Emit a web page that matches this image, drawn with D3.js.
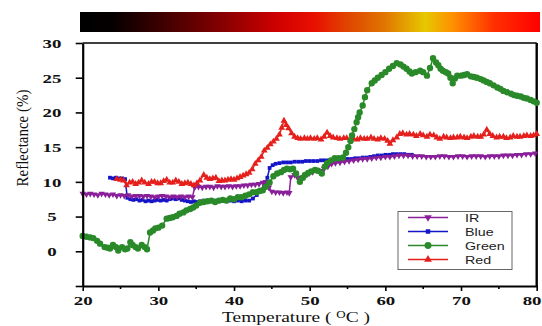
<!DOCTYPE html>
<html><head><meta charset="utf-8">
<script src="https://cdn.jsdelivr.net/npm/d3@7"></script>
<style>html,body{margin:0;padding:0;background:#fff;}svg{display:block;}</style>
</head><body>
<svg id="c" width="542" height="326"></svg>
<script>
const xTicks = [20,30,40,50,60,70,80];
const xMinor = [25,35,45,55,65,75];
const yTicks = [-5,0,5,10,15,20,25,30];
const seriesNames = ["IR","Blue","Green","Red"];
const seriesColors = ["#8a1f9a","#1414c8","#2a8a2a","#e5201c"];
const gradStops = [[0,"#000000"],[0.07,"#050000"],[0.2,"#4a0000"],[0.32,"#8c0000"],[0.43,"#d00000"],[0.51,"#e81000"],[0.58,"#e04400"],[0.66,"#e07400"],[0.75,"#e6c800"],[0.81,"#ff9000"],[0.9,"#ff3000"],[1,"#ff0000"]];

const irData = [[20,8.3],[20.5,8.2],[21,8.3],[21.5,8.2],[22,8.1],[22.5,8.3],[23,8.2],[23.5,8.1],[24,8.2],[24.5,8.0],[25,8.1],[25.5,8.0],[26,8.1],[26.5,7.9],[27,8.0],[27.5,8.0],[28,7.9],[28.5,8.0],[29,7.9],[29.5,7.8],[30,7.9],[30.5,8.0],[31,7.9],[31.5,7.8],[32,7.9],[32.5,7.8],[33,7.9],[33.5,7.8],[34,7.9],[34.5,7.8],[34.8,9.2],[35.3,9.3],[35.8,9.2],[36.3,9.3],[36.8,9.3],[37.3,9.2],[37.8,9.4],[38.3,9.3],[38.8,9.3],[39.3,9.4],[39.8,9.3],[40.3,9.4],[40.8,9.4],[41.3,9.5],[41.8,9.5],[42.3,9.6],[42.8,9.6],[43.3,9.7],[43.8,9.9],[44.2,10.0],[44.6,9.2],[45,8.6],[45.5,8.5],[46,8.5],[46.5,8.4],[47,8.5],[47.3,8.4],[47.5,10.7],[48,11.0],[48.4,10.6],[48.9,10.6],[49.4,11.0],[49.9,11.2],[50.4,11.4],[50.9,11.7],[51.4,11.6],[51.9,11.9],[52.4,12.2],[52.9,12.6],[53.4,12.7],[54,12.8],[54.6,12.9],[55.2,13.0],[55.8,13.1],[56.4,13.2],[57,13.3],[57.6,13.3],[58.2,13.4],[58.8,13.5],[59.4,13.5],[60,13.6],[60.6,13.6],[61.2,13.7],[61.8,13.8],[62.4,13.8],[63,13.8],[63.6,13.7],[64.2,13.7],[64.8,13.7],[65.4,13.6],[66,13.6],[66.6,13.6],[67.2,13.7],[67.8,13.7],[68.4,13.6],[69,13.6],[69.6,13.7],[70.2,13.7],[70.8,13.6],[71.4,13.7],[72,13.7],[72.6,13.7],[73.2,13.6],[73.8,13.7],[74.4,13.7],[75,13.7],[75.6,13.8],[76.2,13.8],[76.8,13.8],[77.4,13.9],[78,13.9],[78.6,14.0],[79.2,14.0],[79.8,14.1]];

const blueData = [[23.6,10.6],[24,10.5],[24.4,10.6],[24.8,10.5],[25.2,10.5],[25.6,10.4],[25.9,7.7],[26.3,7.5],[26.7,7.4],[27.1,7.5],[27.5,7.3],[27.9,7.4],[28.3,7.2],[28.7,7.3],[29.1,7.2],[29.5,7.3],[29.9,7.4],[30.3,7.3],[30.7,7.4],[31.1,7.3],[31.5,7.5],[31.9,7.6],[32.3,7.5],[32.7,7.6],[33.1,7.4],[33.5,7.3],[33.9,7.2],[34.3,7.1],[34.7,7.2],[35.1,7.1],[35.5,7.2],[36,7.3],[36.5,7.2],[37,7.2],[37.5,7.3],[38,7.2],[38.5,7.3],[39,7.2],[39.5,7.3],[40,7.2],[40.5,7.3],[41,7.2],[41.5,7.3],[42,7.3],[42.5,7.6],[43,8.1],[43.5,8.8],[44,9.5],[44.4,10.6],[44.7,12.0],[45.1,12.4],[45.5,12.6],[46,12.7],[46.5,12.8],[47,12.8],[47.5,12.8],[48,12.9],[48.5,12.9],[49,12.9],[49.5,13.0],[50,13.0],[50.5,13.0],[51,13.0],[51.5,13.1],[52,13.1],[52.5,13.1],[53,13.1],[53.5,13.2],[54,13.2],[54.5,13.2],[55,13.3],[55.5,13.3],[56,13.4],[56.5,13.4],[57,13.5],[57.5,13.5],[58,13.6],[58.5,13.7],[59,13.8],[59.5,13.8],[60,13.9],[60.5,13.9],[61,14.0],[61.5,14.0],[62,14.0],[62.5,14.0],[63,13.9],[63.5,13.9]];

const greenData = [[20,2.2],[20.5,2.1],[21,2.0],[21.4,1.9],[21.9,1.5],[22.3,1.1],[22.9,0.6],[23.3,0.5],[23.6,0.4],[24.0,0.9],[24.4,0.6],[24.7,0.1],[25.2,0.6],[25.6,0.3],[25.9,0.4],[26.3,1.3],[26.6,0.9],[27.0,0.6],[27.3,0.4],[27.8,0.9],[28.2,0.6],[28.5,0.3],[28.9,2.7],[29.3,3.0],[29.6,3.3],[30.0,3.4],[30.5,3.7],[31.1,4.7],[31.5,4.8],[31.9,4.9],[32.4,5.1],[32.8,5.4],[33.3,5.6],[33.7,5.9],[34.2,6.1],[34.6,6.3],[35.0,6.6],[35.5,7.0],[36.0,7.1],[36.5,7.2],[37.0,7.3],[37.5,7.1],[38.0,7.3],[38.5,7.4],[39.0,7.3],[39.5,7.6],[40.0,7.5],[40.5,7.8],[41.0,7.8],[41.5,8.0],[42.0,8.2],[42.5,8.5],[43.0,8.5],[43.4,8.7],[43.8,8.8],[44.2,9.3],[44.7,9.9],[45.2,10.8],[45.7,11.2],[46.2,11.4],[46.6,11.7],[47.0,11.9],[47.4,11.8],[47.8,11.9],[48.2,11.2],[48.7,10.0],[49.1,10.6],[49.4,11.0],[49.8,11.3],[50.2,11.5],[50.7,11.7],[51.1,11.6],[51.6,11.2],[52.0,12.2],[52.3,12.7],[52.8,13.1],[53.3,13.4],[53.8,13.4],[54.4,13.5],[54.8,14.2],[55.1,15.0],[55.4,15.9],[55.6,16.7],[55.9,17.6],[56.2,18.6],[56.4,19.3],[56.6,20.0],[57.0,21.0],[57.3,22.2],[57.6,23.2],[58.2,24.2],[58.6,24.6],[59.0,25.0],[59.5,25.4],[60.0,25.8],[60.5,26.3],[61.0,26.7],[61.5,27.1],[62.0,26.9],[62.4,26.6],[62.8,26.3],[63.2,25.9],[63.5,25.6],[64.0,25.8],[64.6,26.0],[65.0,25.8],[65.5,25.3],[65.9,26.4],[66.3,27.8],[66.7,27.2],[67.0,26.8],[67.3,26.3],[67.6,26.0],[68.0,25.8],[68.3,25.6],[68.6,25.0],[68.9,24.2],[69.2,24.9],[69.5,25.3],[70.0,25.3],[70.4,25.4],[70.8,25.5],[71.3,25.2],[71.7,25.1],[72.1,25.0],[72.6,24.8],[73.0,24.6],[73.4,24.4],[73.8,24.2],[74.3,23.9],[74.8,23.6],[75.2,23.4],[75.6,23.1],[76.1,22.9],[76.6,22.7],[77.0,22.5],[77.4,22.4],[77.9,22.3],[78.3,22.1],[78.7,22.0],[79.2,21.8],[79.6,21.6],[80.0,21.4]];

const redData = [[24.5,10.4],[25.0,10.3],[25.4,10.2],[25.8,9.5],[26.2,9.9],[26.6,10.0],[27.0,9.7],[27.4,9.9],[27.8,10.2],[28.2,9.9],[28.7,9.7],[29.1,10.0],[29.5,10.0],[29.9,9.8],[30.3,9.8],[30.7,10.1],[31.1,10.3],[31.5,9.9],[31.9,9.9],[32.3,10.2],[32.7,10.0],[33.1,9.7],[33.5,9.8],[33.9,9.9],[34.3,9.7],[34.7,9.5],[35.1,9.8],[35.5,10.2],[36.0,11.0],[36.4,10.6],[36.8,10.4],[37.2,10.5],[37.6,10.6],[38.0,10.1],[38.4,10.2],[38.8,10.2],[39.2,10.3],[39.6,10.4],[40.0,10.3],[40.4,10.5],[40.8,10.7],[41.2,10.9],[41.6,11.1],[42.0,11.3],[42.4,11.8],[42.8,12.6],[43.2,13.1],[43.6,13.6],[44.0,14.5],[44.4,14.9],[44.8,15.4],[45.2,15.8],[45.6,16.2],[46.0,16.8],[46.3,17.8],[46.6,18.8],[46.9,18.2],[47.2,17.7],[47.6,17.0],[48.0,16.5],[48.4,16.3],[48.8,16.2],[49.3,16.3],[49.7,16.2],[50.1,16.3],[50.6,16.2],[51.0,16.3],[51.5,16.1],[51.9,16.5],[52.3,17.1],[52.7,16.6],[53.1,16.4],[53.6,16.3],[54.0,16.2],[54.5,16.3],[54.9,16.3],[55.4,16.1],[55.8,16.2],[56.3,16.1],[56.7,16.3],[57.2,16.2],[57.6,16.2],[58.1,16.4],[58.5,16.2],[59.0,16.1],[59.4,16.3],[59.9,16.2],[60.3,15.9],[60.6,15.5],[61.0,16.0],[61.5,16.4],[61.9,16.9],[62.3,17.0],[62.8,16.8],[63.2,16.9],[63.7,16.8],[64.1,16.6],[64.6,16.9],[65.0,16.7],[65.5,16.5],[65.9,16.8],[66.4,16.7],[66.8,16.4],[67.2,16.2],[67.7,16.5],[68.1,16.4],[68.6,16.3],[69.0,16.4],[69.5,16.4],[69.9,16.5],[70.4,16.4],[70.8,16.3],[71.3,16.5],[71.7,16.6],[72.2,16.5],[72.6,16.5],[73.0,16.8],[73.4,17.5],[73.8,16.9],[74.2,16.6],[74.7,16.4],[75.1,16.5],[75.6,16.5],[76.0,16.3],[76.5,16.4],[76.9,16.6],[77.4,16.5],[77.8,16.5],[78.3,16.6],[78.7,16.7],[79.2,16.6],[79.6,16.7],[80.0,16.9]];

const svg = d3.select("#c");
const L = 82.7, R = 536.7, T = 43, B = 286;
const x = d3.scaleLinear().domain([20,80]).range([L,R]);
const y = d3.scaleLinear().domain([-5,30]).range([B,T]);

// colorbar
const defs = svg.append("defs");
const lg = defs.append("linearGradient").attr("id","cb").attr("x1","0").attr("x2","1").attr("y1","0").attr("y2","0");
gradStops.forEach(s => lg.append("stop").attr("offset", s[0]).attr("stop-color", s[1]));
svg.append("rect").attr("x",80).attr("y",12).attr("width",460).attr("height",20).attr("fill","url(#cb)");

// frame
svg.append("line").attr("x1",L).attr("x2",R).attr("y1",T).attr("y2",T).attr("stroke","#000").attr("stroke-width",1.6);
svg.append("line").attr("x1",R).attr("x2",R).attr("y1",T).attr("y2",B).attr("stroke","#000").attr("stroke-width",2.4);

// series
const symbols = [d3.symbolTriangle, d3.symbolSquare, d3.symbolCircle, d3.symbolTriangle];
const sizes = [18, 14, 32, 20];
const rot = [180, 0, 0, 0];
const allData = [irData, blueData, greenData, redData];
const drawOrder = [1, 0, 3, 2];
const line = d3.line().x(d => x(d[0])).y(d => y(d[1]));
drawOrder.forEach(i => {
  const g = svg.append("g");
  g.append("path").datum(allData[i]).attr("d", line).attr("fill","none")
    .attr("stroke", seriesColors[i]).attr("stroke-width", 1.5);
  const sym = d3.symbol().type(symbols[i]).size(sizes[i]);
  g.selectAll("path.m").data(allData[i]).join("path").attr("class","m")
    .attr("d", sym)
    .attr("transform", d => `translate(${x(d[0])},${y(d[1])}) rotate(${rot[i]})`)
    .attr("fill", seriesColors[i]);
});

// axes
const yAxis = d3.axisLeft(y).tickValues(yTicks).tickSize(7).tickSizeOuter(0).tickFormat(d => d < 0 ? "" : d);
const gy = svg.append("g").attr("transform",`translate(${L},0)`).call(yAxis);
gy.select(".domain").attr("stroke-width",2.2);
gy.selectAll(".tick line").attr("stroke-width",1.6);
gy.selectAll(".tick text").attr("x",0).attr("dy","0.34em")
  .attr("transform",`translate(${52-L},0) scale(1.45,1)`)
  .attr("text-anchor","middle").attr("font-family","'Liberation Serif','Times New Roman',serif")
  .attr("font-weight","bold").attr("font-size",13).attr("fill","#111");

const xAxis = d3.axisBottom(x).tickValues(xTicks).tickSize(5).tickSizeOuter(0).tickFormat(d3.format("d"));
const gx = svg.append("g").attr("transform",`translate(0,${B})`).call(xAxis);
gx.select(".domain").attr("stroke-width",2.2);
gx.selectAll(".tick line").attr("stroke-width",1.6);
gx.selectAll(".tick text").attr("y",0).attr("dy",0)
  .attr("transform", d => d === 80 ? `translate(${541-R},19) scale(1.45,1)` : "translate(0,19) scale(1.45,1)")
  .attr("text-anchor", d => d === 80 ? "end" : "middle")
  .attr("font-family","'Liberation Serif','Times New Roman',serif")
  .attr("font-weight","bold").attr("font-size",13).attr("fill","#111");
svg.append("g").selectAll("line").data(xMinor).join("line")
  .attr("x1",d=>x(d)).attr("x2",d=>x(d)).attr("y1",B).attr("y2",B+3)
  .attr("stroke","#000").attr("stroke-width",1.6);

// titles
const xt = svg.append("text").attr("transform","translate(296,322) scale(1.3,1)")
  .attr("text-anchor","middle").attr("font-family","'Liberation Serif','Times New Roman',serif")
  .attr("font-size",15).attr("fill","#111");
xt.append("tspan").text("Temperature ( ");
xt.append("tspan").attr("font-size",10).attr("dy",-4).text("O");
xt.append("tspan").attr("dy",4).text("C )");

svg.append("text").attr("transform","translate(28,138) rotate(-90) scale(1,1.15)")
  .attr("text-anchor","middle").attr("font-family","'Liberation Serif','Times New Roman',serif")
  .attr("font-size",15).attr("fill","#111").text("Reflectance (%)");

// legend
const lgG = svg.append("g");
lgG.append("rect").attr("x",398).attr("y",211.5).attr("width",114).attr("height",58)
  .attr("fill","#fff").attr("stroke","#666").attr("stroke-width",1);
seriesNames.forEach((n,i) => {
  const yy = 217.5 + i*14;
  lgG.append("line").attr("x1",408).attr("x2",448).attr("y1",yy).attr("y2",yy)
    .attr("stroke",seriesColors[i]).attr("stroke-width",1.3);
  lgG.append("path").attr("d", d3.symbol().type(symbols[i]).size(sizes[i]+6)())
    .attr("transform",`translate(428,${yy}) rotate(${rot[i]})`).attr("fill",seriesColors[i]);
  lgG.append("text").attr("transform",`translate(465,${yy+4}) scale(1.3,1)`)
    .attr("font-family","'Liberation Sans',Arial,sans-serif").attr("font-size",11)
    .attr("fill","#222").text(n);
});
</script>
</body></html>
